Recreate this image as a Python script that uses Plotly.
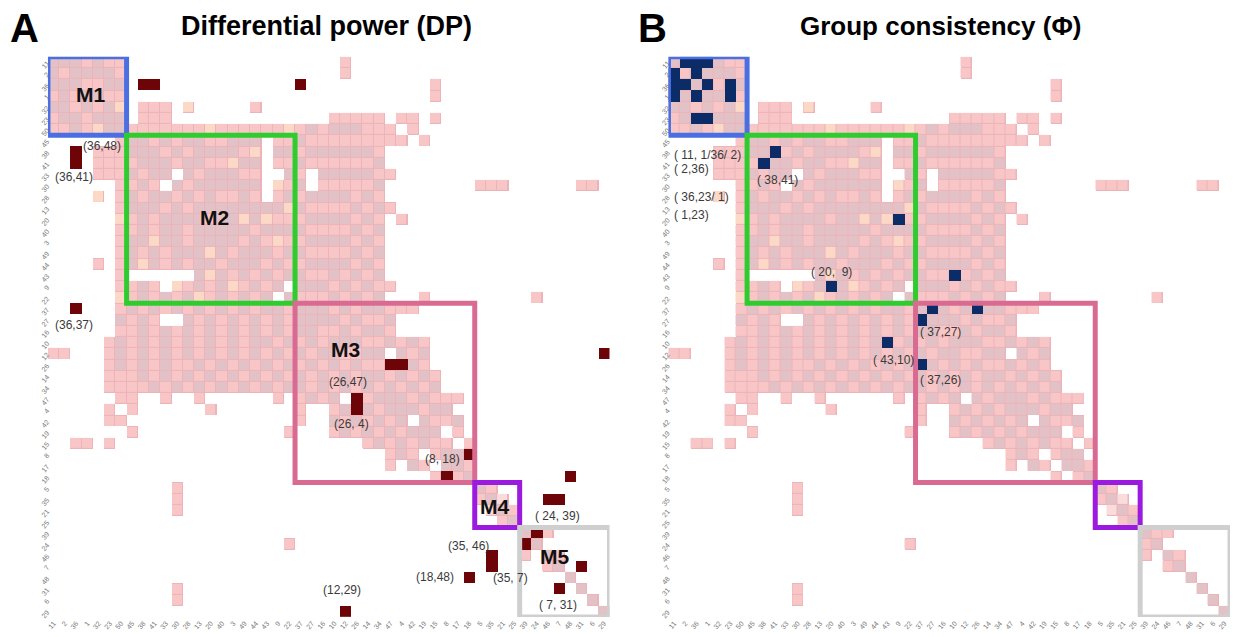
import numpy as np
import plotly.graph_objects as go

# Node order along both axes (grouped by module)
NODES = [11, 2, 36, 1, 32, 23, 50,
         45, 38, 41, 33, 30, 28, 13, 20, 40, 3, 49, 44, 43, 9, 22,
         37, 27, 16, 10, 12, 26, 14, 34, 47, 4, 42, 19, 15, 8, 17, 18,
         5, 35, 21, 25,
         39, 24, 46, 7, 48, 31, 6, 29]

MODULE_NAMES = ["M1", "M2", "M3", "M4", "M5"]
MODULE_SIZES = [7, 15, 16, 4, 8]
MODULE_COLORS = ["#4a6fe3", "#2fcc2f", "#d96b93", "#9a1adf", "#cfcfcf"]

# Group-average connection level, lower triangle (row i has i+1 entries).
# p = pink, g = dusty rose, o = peach, l = pale pink, . = no connection
LOWER = [
    "g",
    "gp",
    "ggg",
    "pgpg",
    "ggpgp",
    "pggpgg",
    "ppgpogg",
    "......pg",
    "....pppgg",
    "....ppppgg",
    "....pppgpgg",
    "......ppgp.g",
    "....o.pgpggpg",
    "......pgggpgpg",
    "......opgpggggp",
    "......ppgpggpggg",
    "......pggoggpgggg",
    "......pgpgpgggogpg",
    "....p.pgogpgpggpggg",
    "......p......gogpgpg",
    "......ppgp.opgpgopgpg",
    "......opgpgpgopgpgpg.g",
    "......pgpgpgpgpgpgpggpg",
    "......gpgp..gpgpgpgpgpgg",
    "......ppgpgpgpgpgpgpgpggp",
    ".....pgpgpgpgpgpgpggpgpgpg",
    "pp...pgpgpgpgpgpgpgpgpgpggp",
    ".....pgpgpgppgpgpgpgpgpgpgpg",
    ".....pppgpgpgpgpgpgpgpgpgpgpg",
    ".....ppppgpgpgpgpgpgpggpgpgpgp",
    "......pp..p..p......p.pgpg.gpgg",
    ".....p.p......p.......p..pgpgpgg",
    ".....pp...............p..gpgpgpg",
    ".......p.............p...pgpgpgpgg",
    "..pp.p......................pgpgpgp",
    "..............................pgp.pg",
    "..............................p.gp.gg",
    "..................................p.pg",
    "...........p..........................g",
    "...........p..........................pg",
    "...........p...........................lg",
    "........................................pg",
    "..........................................g",
    ".....................p....................pg",
    "..........................................p.g",
    "............................................pg",
    "..............................................g",
    "...........p...................................g",
    "...........p....................................g",
    ".................................................g",
]

# Node pairs highlighted in each panel
DP_PAIRS = [(36, 38), (36, 41), (36, 37), (26, 47), (26, 4), (8, 18),
            (12, 29), (35, 46), (35, 7), (18, 48), (7, 31), (24, 39)]
PHI_PAIRS = [(11, 2), (11, 36), (11, 1), (2, 36), (36, 1), (36, 23),
             (1, 23), (38, 41), (20, 9), (43, 10), (37, 27), (37, 26)]

N = len(NODES)
CODE = {"p": 1, "g": 2, "o": 3, "l": 4}
LEVEL_COLORS = ["#f9c6c7", "#e2c2c7", "#fcd8c6", "#fbdcdc"]
EDGE_COLOR = "#ecb3b8"

base = np.full((N, N), np.nan)
for i, row in enumerate(LOWER):
    row = row.ljust(i + 1, ".")[: i + 1]
    for j, ch in enumerate(row):
        if ch in CODE:
            base[i, j] = CODE[ch]
            base[j, i] = CODE[ch]

pos = {n: k for k, n in enumerate(NODES)}


def pair_matrix(pairs):
    m = np.full((N, N), np.nan)
    for a, b in pairs:
        m[pos[a], pos[b]] = 1
        m[pos[b], pos[a]] = 1
    return m


def level_scale(colors):
    k = len(colors)
    cs = []
    for i, c in enumerate(colors):
        cs.append([i / k, c])
        cs.append([(i + 1) / k, c])
    return cs


fig = go.Figure()
idx = list(range(N))
edge = np.where(np.isnan(base), np.nan, 1.0)

panels = [("x", "y", DP_PAIRS, "#6d0508"), ("x2", "y2", PHI_PAIRS, "#0c2c68")]
for xa, ya, pairs, hcol in panels:
    fig.add_trace(go.Heatmap(z=edge, x=idx, y=idx, xaxis=xa, yaxis=ya,
                             colorscale=[[0, EDGE_COLOR], [1, EDGE_COLOR]],
                             showscale=False, hoverinfo="skip"))
    fig.add_trace(go.Heatmap(z=base, x=idx, y=idx, xaxis=xa, yaxis=ya,
                             colorscale=level_scale(LEVEL_COLORS),
                             zmin=0.5, zmax=4.5, xgap=1, ygap=1,
                             showscale=False, hoverinfo="skip"))
    fig.add_trace(go.Heatmap(z=pair_matrix(pairs), x=idx, y=idx,
                             xaxis=xa, yaxis=ya,
                             colorscale=[[0, hcol], [1, hcol]],
                             showscale=False, hoverinfo="skip"))

W, H = 1242, 637
top_px, bot_px = 57, 619
ydom = [1 - bot_px / H, 1 - top_px / H]
axis_common = dict(tickmode="array", tickvals=idx, ticktext=[str(n) for n in NODES],
                   tickfont=dict(size=7, color="#777777", family="Liberation Sans"),
                   tickangle=-50, showgrid=False, zeroline=False, showline=False,
                   ticks="", ticklen=0)

fig.update_layout(
    width=W, height=H, margin=dict(l=0, r=0, t=0, b=0),
    paper_bgcolor="white", plot_bgcolor="white", showlegend=False,
    xaxis=dict(domain=[47 / W, 609 / W], range=[-0.5, N - 0.5], anchor="y", **axis_common),
    yaxis=dict(domain=ydom, range=[N - 0.5, -0.5], anchor="x", **axis_common),
    xaxis2=dict(domain=[668 / W, 1230 / W], range=[-0.5, N - 0.5], anchor="y2", **axis_common),
    yaxis2=dict(domain=ydom, range=[N - 0.5, -0.5], anchor="x2", **axis_common),
)

# Module outlines
shapes = []
for xa, ya in [("x", "y"), ("x2", "y2")]:
    start = 0
    for size, col in zip(MODULE_SIZES, MODULE_COLORS):
        shapes.append(dict(type="rect", xref=xa, yref=ya,
                           x0=start - 0.5, x1=start + size - 0.5,
                           y0=start - 0.5, y1=start + size - 0.5,
                           line=dict(color=col, width=5), fillcolor="rgba(0,0,0,0)"))
        start += size
fig.update_layout(shapes=shapes)

ann = []
# Panel letters and titles
ann.append(dict(text="<b>A</b>", x=7 / W, y=1 - 4 / H, xref="paper", yref="paper",
                xanchor="left", yanchor="top", showarrow=False,
                font=dict(size=40, color="black", family="Liberation Sans")))
ann.append(dict(text="<b>B</b>", x=636 / W, y=1 - 4 / H, xref="paper", yref="paper",
                xanchor="left", yanchor="top", showarrow=False,
                font=dict(size=40, color="black", family="Liberation Sans")))
ann.append(dict(text="<b>Differential power (DP)</b>", x=326 / W, y=1 - 26 / H,
                xref="paper", yref="paper", xanchor="center", yanchor="middle",
                showarrow=False, font=dict(size=27, color="black", family="Liberation Sans")))
ann.append(dict(text="<b>Group consistency (Φ)</b>", x=940 / W, y=1 - 26 / H,
                xref="paper", yref="paper", xanchor="center", yanchor="middle",
                showarrow=False, font=dict(size=26, color="black", family="Liberation Sans")))

# Module names in panel A
module_label_pos = [(3.3, 2.9), (14.3, 13.8), (26.0, 25.6), (39.3, 39.6), (44.6, 44.1)]
for name, (mx, my) in zip(MODULE_NAMES, module_label_pos):
    ann.append(dict(text=f"<b>{name}</b>", x=mx, y=my, xref="x", yref="y",
                    showarrow=False, font=dict(size=21, color="#111111", family="Liberation Sans")))

lab_font = dict(size=12, color="#3a3a3a", family="Liberation Sans")
dp_labels = [("(36,48)", 4.3, 7.5), ("(36,41)", 1.8, 10.2), ("(36,37)", 1.8, 23.4),
             ("(26,47)", 26.2, 28.5), ("(26, 4)", 26.5, 32.3), ("(8, 18)", 34.6, 35.4),
             ("( 24, 39)", 44.9, 40.5), ("(35, 46)", 36.9, 43.2), ("(35, 7)", 40.7, 46.0),
             ("(18,48)", 34.0, 45.9), ("( 7, 31)", 44.9, 48.4), ("(12,29)", 25.7, 47.1)]
for t, ax_, ay_ in dp_labels:
    ann.append(dict(text=t, x=ax_, y=ay_, xref="x", yref="y", showarrow=False, font=lab_font))

phi_labels = [("( 11, 1/36/ 2)", -0.2, 8.3, "left"), ("( 2,36)", -0.2, 9.5, "left"),
              ("( 36,23/ 1)", -0.2, 12.0, "left"), ("( 1,23)", -0.2, 13.6, "left"),
              ("( 38,41)", 9.2, 10.5, "center"), ("( 20,  9)", 14.0, 18.7, "center"),
              ("( 37,27)", 23.7, 24.1, "center"), ("( 43,10)", 19.5, 26.6, "center"),
              ("( 37,26)", 23.7, 28.3, "center")]
for t, ax_, ay_, anc in phi_labels:
    ann.append(dict(text=t, x=ax_, y=ay_, xref="x2", yref="y2", xanchor=anc,
                    showarrow=False, font=lab_font))

fig.update_layout(annotations=ann)
fig.write_html("out.html")
